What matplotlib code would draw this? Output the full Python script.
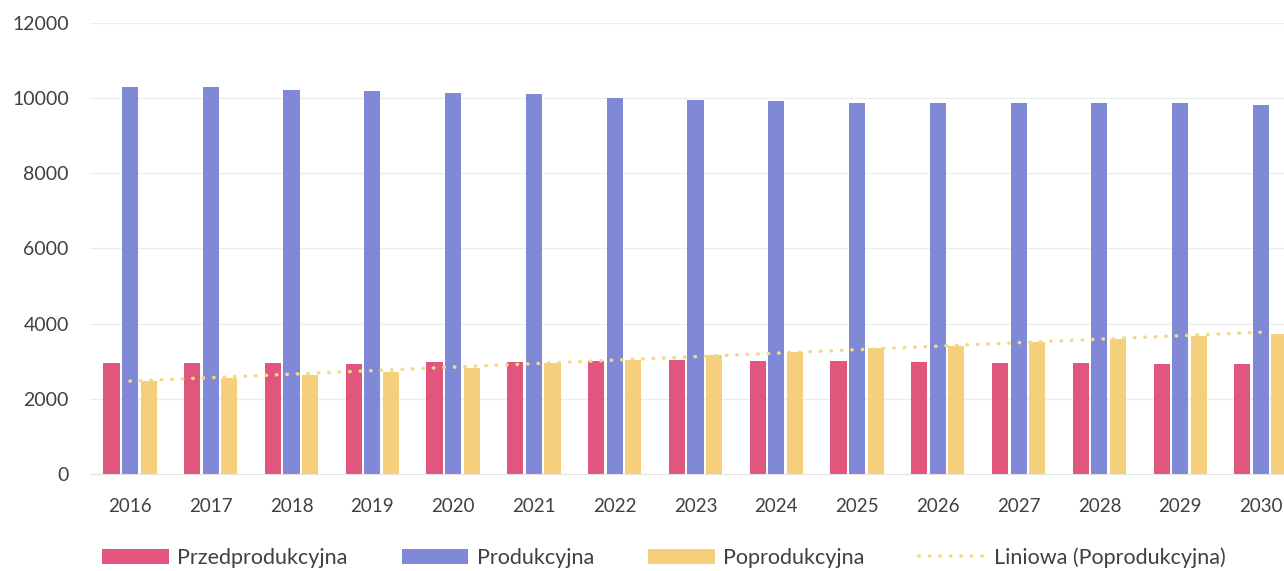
import numpy as np
import matplotlib
matplotlib.use("Agg")
import matplotlib.pyplot as plt

# data
years = ['2016', '2017', '2018', '2019', '2020', '2021', '2022', '2023',
         '2024', '2025', '2026', '2027', '2028', '2029', '2030']
przedprodukcyjna = [2945, 2945, 2945, 2935, 2970, 2990, 3015, 3025,
                    3005, 3005, 2990, 2960, 2945, 2920, 2920]
produkcyjna = [10310, 10300, 10210, 10190, 10150, 10100, 10015, 9950,
               9935, 9870, 9865, 9865, 9880, 9865, 9830]
poprodukcyjna = [2475, 2545, 2635, 2725, 2830, 2945, 3035, 3165,
                 3240, 3345, 3415, 3505, 3585, 3670, 3715]

plt.rcParams['font.family'] = ['Lato', 'DejaVu Sans']

c_red = '#e0567c'
c_blue = '#7f89d6'
c_yel = '#f5cf7c'
c_text = '#404040'

fig = plt.figure(figsize=(12.84, 5.71), dpi=100)
# the plot area runs past the right edge, as in the scan
ax = fig.add_axes([0.0698, 0.1699, 0.9437, 0.7898])

x = np.arange(len(years))
bar_w = 0.2
step = 0.23
h1 = ax.bar(x - step, przedprodukcyjna, width=bar_w, color=c_red, label='Przedprodukcyjna', zorder=2)
h2 = ax.bar(x, produkcyjna, width=bar_w, color=c_blue, label='Produkcyjna', zorder=2)
h3 = ax.bar(x + step, poprodukcyjna, width=bar_w, color=c_yel, label='Poprodukcyjna', zorder=2)

# linear trend of Poprodukcyjna
k, b = np.polyfit(x, poprodukcyjna, 1)
h4, = ax.plot(x, k * x + b, color='#f2d98a', lw=2.6, linestyle=(0, (0.1, 2.8)),
              dash_capstyle='round', label='Liniowa (Poprodukcyjna)', zorder=3)

ax.set_xlim(-0.5, len(years) - 0.5)
ax.set_ylim(0, 12000)
ax.set_yticks(range(0, 12001, 2000))
ax.set_xticks(x)
ax.set_xticklabels(years)
ax.grid(axis='y', color='#ececec', lw=0.8, zorder=0)
for s in ['top', 'right', 'left']:
    ax.spines[s].set_visible(False)
ax.spines['bottom'].set_color('#e4e4e4')
ax.tick_params(length=0, labelsize=13.5, colors=c_text)
ax.tick_params(axis='x', pad=17)
ax.tick_params(axis='y', pad=15, labelsize=14)

fig.legend(handles=[h1, h2, h3, h4], loc='center', bbox_to_anchor=(0.517, 0.024),
           ncol=4, frameon=False, fontsize=15.5, handlelength=3.1, handleheight=0.7,
           handletextpad=0.4, columnspacing=2.5, labelcolor=c_text)

fig.savefig('out.png', dpi=100)
